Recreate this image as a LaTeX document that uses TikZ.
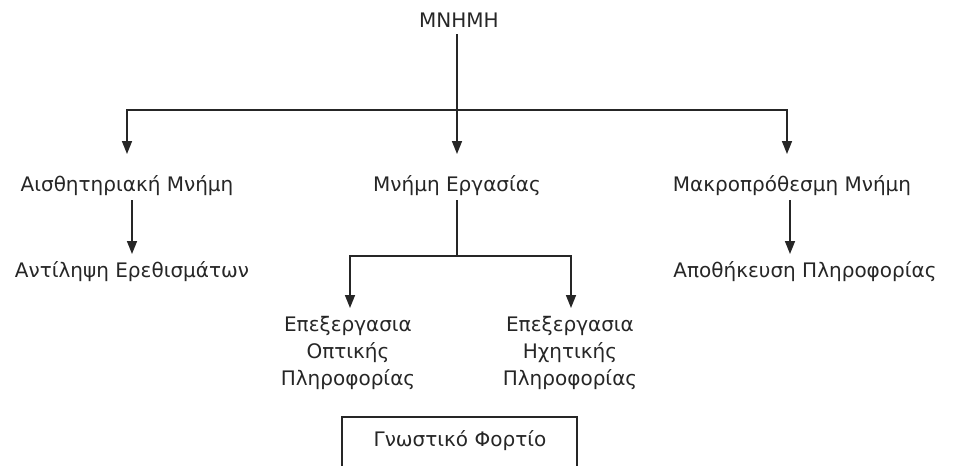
\documentclass[tikz,border=0pt]{standalone}
\usepackage{fontspec}
\setmainfont{DejaVu Sans}
\usetikzlibrary{arrows.meta}
\begin{document}
\begin{tikzpicture}[x=1pt,y=-1pt,
  lbl/.style={inner sep=0pt,font=\fontsize{20}{27}\selectfont,text=black!85,align=center},
  conn/.style={line width=1.6pt,draw=black!85},
  arr/.style={conn,-{Triangle[length=13pt,width=10pt]}}]
\useasboundingbox (0,0) rectangle (959,466);
% top node
\node[lbl] (mem) at (459,20) {ΜΝΗΜΗ};
% first level
\node[lbl] (sens) at (127,186) {Αισθητηριακή Μνήμη};
\node[lbl] (work) at (457,186) {Μνήμη Εργασίας};
\node[lbl] (long) at (792,186) {Μακροπρόθεσμη Μνήμη};
% second level
\node[lbl] (perc) at (132,272) {Αντίληψη Ερεθισμάτων};
\node[lbl] (store) at (805,272) {Αποθήκευση Πληροφορίας};
\node[lbl] (vis) at (348,353) {Επεξεργασια\\Οπτικής\\Πληροφορίας};
\node[lbl] (aud) at (570,353) {Επεξεργασια\\Ηχητικής\\Πληροφορίας};
% cognitive load box
\draw[conn,line width=1.2pt] (342,478) |- (577,417) -- (577,478);
\node[lbl] (load) at (460,441) {Γνωστικό Φορτίο};
% connectors
\coordinate (hub) at (457,110);
\coordinate (wsplit) at (457,256);
\draw[conn] (hub |- mem.south) ++(0,7) -- (hub);
\draw[arr] (hub) -- (457,154);
\draw[arr] (hub) -| (127,154);
\draw[arr] (hub) -| (787,154);
\draw[arr] (132,200) -- (132,254);
\draw[arr] (790,200) -- (790,254);
\draw[conn] (457,200) -- (wsplit);
\draw[arr] (wsplit) -| (350,308);
\draw[arr] (wsplit) -| (571,308);
\end{tikzpicture}
\end{document}
